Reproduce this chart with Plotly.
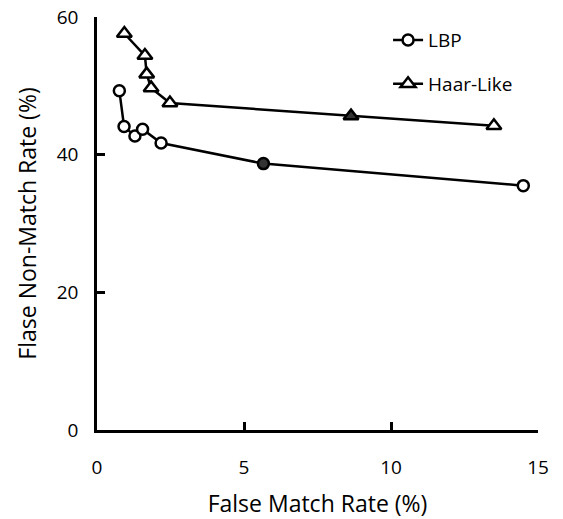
import plotly.graph_objects as go

lbp_x = [0.76, 0.92, 1.29, 1.55, 2.18, 5.66, 14.5]
lbp_y = [49.3, 44.1, 42.7, 43.7, 41.7, 38.7, 35.5]
haar_x = [0.93, 1.63, 1.69, 1.84, 2.48, 8.64, 13.5]
haar_y = [57.6, 54.4, 51.7, 49.7, 47.5, 45.6, 44.2]
x_ticks = [0, 5, 10, 15]
y_ticks = [0, 20, 40, 60]

font = "Open Sans, Noto Sans, sans-serif"

fig = go.Figure()
fig.add_trace(go.Scatter(
    x=lbp_x, y=lbp_y, mode="lines+markers", name="LBP", legendgroup="a",
    line=dict(color="black", width=2.5),
    marker=dict(symbol="circle", size=11, color=["white"] * 5 + ["#333"] + ["white"],
                line=dict(color="black", width=2.5)),
))
fig.add_trace(go.Scatter(
    x=haar_x, y=haar_y, mode="lines+markers", name="Haar-Like", legendgroup="b",
    line=dict(color="black", width=2.5),
    marker=dict(symbol="triangle-up", size=13, color=["white"] * 5 + ["#333"] + ["white"],
                line=dict(color="black", width=2.5)),
))

fig.update_layout(
    width=563, height=519,
    margin=dict(l=97, r=25, t=17, b=89, autoexpand=False),
    paper_bgcolor="white", plot_bgcolor="white",
    font=dict(family=font, size=19, color="black"),
    showlegend=True,
    legend=dict(x=0.66, y=0.99, xanchor="left", yanchor="top",
                bgcolor="rgba(0,0,0,0)", font=dict(size=19),
                tracegroupgap=16, itemwidth=30),
    xaxis=dict(range=[0, 15], tickvals=x_ticks, showgrid=False, zeroline=False,
               showline=True, linecolor="black", linewidth=2.5,
               ticks="inside", ticklen=8, tickwidth=2.5, tickcolor="black",
               title=dict(text="False Match Rate (%)", standoff=18),
               ticklabelstandoff=18, automargin=False, ticklabeloverflow="allow"),
    yaxis=dict(range=[0, 60], tickvals=y_ticks, showgrid=False, zeroline=False,
               showline=True, linecolor="black", linewidth=2.5,
               ticks="inside", ticklen=8, tickwidth=2.5, tickcolor="black",
               title=dict(text="Flase Non-Match Rate (%)", standoff=14),
               ticklabelstandoff=12, automargin=False, ticklabeloverflow="allow"),
)

fig.write_html("out.html",
               config={"displayModeBar": False},
               post_script="document.body.style.margin='0';document.body.style.overflow='hidden';")
